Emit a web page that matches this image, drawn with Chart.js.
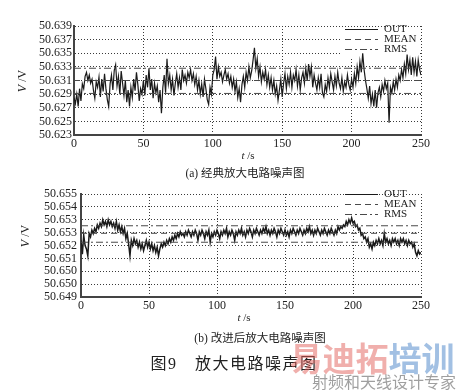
<!DOCTYPE html>
<html>
<head>
<meta charset="utf-8">
<script src="https://cdn.jsdelivr.net/npm/chart.js@4.4.0/dist/chart.umd.min.js"></script>
<style>
body { margin: 0; background: #fff; width: 460px; height: 390px; position: relative; overflow: hidden; font-family: "Liberation Serif", serif; color: #222; }
canvas { position: absolute; left: 0; }
.t { position: absolute; white-space: nowrap; transform: translate(-50%, -50%); }
.cjk { font-family: "Liberation Serif", "Noto Sans CJK SC", serif; }
</style>
</head>
<body>
<canvas id="c1" width="460" height="165" style="top:0"></canvas>
<canvas id="c2" width="460" height="150" style="top:175px"></canvas>

<div class="t" style="left:22px;top:81px;font-size:12px;transform:translate(-50%,-50%) rotate(-90deg)"><i>V</i> /V</div>
<div class="t" style="left:248px;top:155px;font-size:11px"><i>t</i> /s</div>
<div class="t cjk" style="left:245px;top:172px;font-size:11.5px">(a) 经典放大电路噪声图</div>

<div class="t" style="left:25px;top:236px;font-size:12px;transform:translate(-50%,-50%) rotate(-90deg)"><i>V</i> /V</div>
<div class="t" style="left:244px;top:317px;font-size:11px"><i>t</i> /s</div>
<div class="t cjk" style="left:260px;top:337px;font-size:11.5px">(b) 改进后放大电路噪声图</div>

<div class="t cjk" style="left:234px;top:362px;font-size:16px;letter-spacing:1.5px">图9　放大电路噪声图</div>

<div class="t" style="left:372px;top:357px;font-size:33px;font-weight:bold;font-family:'Noto Sans CJK SC'"><span style="color:rgba(225,95,90,0.5)">易迪拓</span><span style="color:rgba(70,130,200,0.5)">培训</span></div>
<div class="t" style="left:384px;top:381px;font-size:16px;font-family:'Noto Sans CJK SC';color:rgba(80,80,80,0.55)">射频和天线设计专家</div>

<script>
// time axis, seconds
const seconds = Array.from({length: 251}, (_, i) => i);
const xTicks = [0, 50, 100, 150, 200, 250];

// (a) classic amplifier
const yTicks1 = [50.623, 50.625, 50.627, 50.629, 50.631, 50.633, 50.635, 50.637, 50.639];
const yLabels1 = ['50.623', '50.625', '50.627', '50.629', '50.631', '50.633', '50.635', '50.637', '50.639'];
const mean1 = 50.6310;
const rmsHigh1 = 50.6328;
const rmsLow1 = 50.6291;
const out1 = [
  50.6285, 50.6276, 50.6290, 50.6272, 50.6298, 50.6280, 50.6305, 50.6298, 50.6316, 50.6322,
  50.6310, 50.6318, 50.6306, 50.6312, 50.6296, 50.6284, 50.6308, 50.6300, 50.6315, 50.6286,
  50.6312, 50.6294, 50.6320, 50.6298, 50.6282, 50.6272, 50.6305, 50.6318, 50.6296, 50.6325,
  50.6333, 50.6302, 50.6316, 50.6290, 50.6324, 50.6306, 50.6288, 50.6310, 50.6278, 50.6296,
  50.6272, 50.6300, 50.6285, 50.6312, 50.6295, 50.6322, 50.6304, 50.6280, 50.6298, 50.6290,
  50.6310, 50.6288, 50.6318, 50.6300, 50.6328, 50.6296, 50.6312, 50.6284, 50.6306, 50.6292,
  50.6302, 50.6278, 50.6296, 50.6262, 50.6300, 50.6318, 50.6292, 50.6342, 50.6305, 50.6318,
  50.6296, 50.6312, 50.6288, 50.6306, 50.6320, 50.6300, 50.6314, 50.6296, 50.6326, 50.6310,
  50.6318, 50.6306, 50.6322, 50.6314, 50.6326, 50.6310, 50.6320, 50.6304, 50.6316, 50.6296,
  50.6310, 50.6290, 50.6305, 50.6286, 50.6312, 50.6298, 50.6282, 50.6275, 50.6300, 50.6290,
  50.6318, 50.6326, 50.6345, 50.6312, 50.6330, 50.6316, 50.6322, 50.6308, 50.6318, 50.6326,
  50.6312, 50.6320, 50.6306, 50.6316, 50.6300, 50.6312, 50.6294, 50.6308, 50.6285, 50.6298,
  50.6278, 50.6304, 50.6316, 50.6300, 50.6322, 50.6310, 50.6330, 50.6314, 50.6324, 50.6340,
  50.6358, 50.6328, 50.6342, 50.6316, 50.6330, 50.6308, 50.6322, 50.6312, 50.6326, 50.6304,
  50.6318, 50.6300, 50.6314, 50.6296, 50.6310, 50.6290, 50.6302, 50.6281, 50.6296, 50.6312,
  50.6286, 50.6306, 50.6320, 50.6298, 50.6316, 50.6304, 50.6322, 50.6300, 50.6318, 50.6310,
  50.6326, 50.6302, 50.6318, 50.6296, 50.6314, 50.6322, 50.6306, 50.6328, 50.6310, 50.6334,
  50.6316, 50.6330, 50.6300, 50.6318, 50.6306, 50.6296, 50.6314, 50.6300, 50.6320, 50.6292,
  50.6286, 50.6304, 50.6294, 50.6314, 50.6300, 50.6320, 50.6308, 50.6296, 50.6316, 50.6302,
  50.6322, 50.6306, 50.6298, 50.6314, 50.6294, 50.6308, 50.6300, 50.6318, 50.6304, 50.6296,
  50.6312, 50.6300, 50.6320, 50.6306, 50.6330, 50.6314, 50.6338, 50.6322, 50.6350, 50.6326,
  50.6310, 50.6298, 50.6284, 50.6302, 50.6276, 50.6290, 50.6272, 50.6296, 50.6270, 50.6292,
  50.6300, 50.6286, 50.6304, 50.6294, 50.6310, 50.6298, 50.6306, 50.6248, 50.6300, 50.6292,
  50.6308, 50.6296, 50.6312, 50.6300, 50.6318, 50.6310, 50.6326, 50.6314, 50.6334, 50.6320,
  50.6348, 50.6326, 50.6340, 50.6318, 50.6344, 50.6322, 50.6338, 50.6316, 50.6340, 50.6326,
  50.6318
];

// (b) improved amplifier
const yTicks2 = [50.649, 50.64975, 50.6505, 50.65125, 50.652, 50.65275, 50.6535, 50.65425, 50.655];
const yLabels2 = ['50.649', '50.650', '50.650', '50.651', '50.652', '50.653', '50.653', '50.654', '50.655'];
const mean2 = 50.65271;
const rmsHigh2 = 50.65315;
const rmsLow2 = 50.65219;
const out2 = [
  50.6523, 50.6515, 50.6526, 50.6520, 50.6518, 50.6514, 50.6527, 50.6525, 50.6529, 50.6527,
  50.6530, 50.6528, 50.6532, 50.6530, 50.6533, 50.6531, 50.6535, 50.6532, 50.6534, 50.6531,
  50.6535, 50.6532, 50.6534, 50.6531, 50.6533, 50.6530, 50.6534, 50.6529, 50.6532, 50.6528,
  50.6531, 50.6527, 50.6530, 50.6524, 50.6527, 50.6521, 50.6514, 50.6523, 50.6520, 50.6524,
  50.6521, 50.6523, 50.6519, 50.6522, 50.6518, 50.6521, 50.6517, 50.6520, 50.6523, 50.6519,
  50.6522, 50.6518, 50.6521, 50.6517, 50.6520, 50.6516, 50.6519, 50.6514, 50.6518, 50.6521,
  50.6519, 50.6522, 50.6520, 50.6523, 50.6521, 50.6524, 50.6522, 50.6525, 50.6523, 50.6526,
  50.6524, 50.6527, 50.6525, 50.6528, 50.6526, 50.6527, 50.6525, 50.6528, 50.6526, 50.6529,
  50.6527, 50.6525, 50.6528, 50.6526, 50.6529, 50.6527, 50.6523, 50.6528, 50.6526, 50.6529,
  50.6527, 50.6524, 50.6528, 50.6526, 50.6529, 50.6522, 50.6527, 50.6525, 50.6528, 50.6526,
  50.6529, 50.6527, 50.6524, 50.6528, 50.6526, 50.6529, 50.6527, 50.6530, 50.6525, 50.6528,
  50.6526, 50.6529, 50.6527, 50.6523, 50.6528, 50.6526, 50.6529, 50.6527, 50.6530, 50.6526,
  50.6528, 50.6525, 50.6529, 50.6527, 50.6530, 50.6528, 50.6525, 50.6529, 50.6527, 50.6530,
  50.6528, 50.6526, 50.6529, 50.6527, 50.6530, 50.6528, 50.6531, 50.6527, 50.6529, 50.6526,
  50.6529, 50.6527, 50.6530, 50.6528, 50.6525, 50.6529, 50.6527, 50.6530, 50.6528, 50.6526,
  50.6529, 50.6526, 50.6528, 50.6525, 50.6529, 50.6527, 50.6530, 50.6528, 50.6526, 50.6529,
  50.6527, 50.6530, 50.6528, 50.6526, 50.6529, 50.6527, 50.6530, 50.6528, 50.6531, 50.6527,
  50.6529, 50.6526, 50.6529, 50.6527, 50.6530, 50.6528, 50.6526, 50.6529, 50.6527, 50.6530,
  50.6528, 50.6526, 50.6529, 50.6527, 50.6530, 50.6528, 50.6526, 50.6529, 50.6527, 50.6531,
  50.6529, 50.6531, 50.6530, 50.6532, 50.6531, 50.6534, 50.6532, 50.6535, 50.6533, 50.6536,
  50.6533, 50.6534, 50.6531, 50.6532, 50.6529, 50.6530, 50.6526, 50.6527, 50.6524, 50.6525,
  50.6522, 50.6524, 50.6519, 50.6521, 50.6518, 50.6522, 50.6520, 50.6523, 50.6521, 50.6524,
  50.6521, 50.6523, 50.6520, 50.6527, 50.6522, 50.6524, 50.6521, 50.6523, 50.6520, 50.6524,
  50.6522, 50.6524, 50.6521, 50.6523, 50.6520, 50.6524, 50.6522, 50.6524, 50.6521, 50.6523,
  50.6520, 50.6523, 50.6521, 50.6522, 50.6519, 50.6521, 50.6516, 50.6514, 50.6517, 50.6515,
  50.6516
];

const legendNames = ['OUT', 'MEAN', 'RMS'];

Chart.defaults.font.family = '"Liberation Serif", "Times New Roman", serif';
Chart.defaults.color = '#222';

// legend drawn inside the plot, top right, on a white box
const legendBox = {
  id: 'legendBox',
  beforeDatasetsDraw(chart, args, o) {
    const {ctx, chartArea: a} = chart;
    ctx.save();
    ctx.fillStyle = '#fff';
    ctx.fillRect(a.right - o.width, a.top + 1, o.width - 1, o.height);
    ctx.restore();
  },
  afterDatasetsDraw(chart, args, o) {
    const {ctx, chartArea: a} = chart;
    const x0 = a.right - o.width;
    ctx.save();
    ctx.font = '11px "Liberation Serif"';
    ctx.textBaseline = 'middle';
    legendNames.forEach((name, i) => {
      const ds = chart.data.datasets.find(d => d.label === name);
      const y = Math.round(a.top + o.top + i * 10) + 0.5;
      ctx.strokeStyle = ds.borderColor;
      ctx.lineWidth = 1;
      ctx.setLineDash(ds.borderDash || []);
      ctx.beginPath();
      ctx.moveTo(x0 + 5, y);
      ctx.lineTo(x0 + 38, y);
      ctx.stroke();
      ctx.fillStyle = '#222';
      ctx.fillText(name, x0 + 44, y);
    });
    ctx.restore();
  }
};

function flat(v) {
  return [{x: 0, y: v}, {x: 250, y: v}];
}

function noiseChart(id, d) {
  return new Chart(document.getElementById(id), {
    type: 'line',
    data: {
      labels: seconds,
      datasets: [
        {label: 'OUT', data: d.out, borderColor: '#1a1a1a', borderWidth: d.lw, order: 2},
        {label: 'MEAN', data: flat(d.mean), borderColor: '#4a4a4a', borderDash: [6, 4], order: 1},
        {label: 'RMS', data: flat(d.hi), borderColor: '#4a4a4a', borderDash: [7, 3, 2, 3], order: 1},
        {label: 'RMS low', data: flat(d.lo), borderColor: '#4a4a4a', borderDash: [7, 3, 2, 3], order: 1}
      ]
    },
    options: {
      responsive: false,
      animation: false,
      elements: {point: {radius: 0}, line: {borderWidth: 1, tension: 0}},
      layout: {padding: d.pad},
      plugins: {legend: {display: false}, tooltip: {enabled: false}, legendBox: d.box},
      scales: {
        x: {
          type: 'linear', min: 0, max: 250,
          afterBuildTicks: s => { s.ticks = xTicks.map(v => ({value: v})); },
          afterFit: s => { s.height = d.xh; },
          ticks: {font: {size: 12}, padding: 2, maxRotation: 0, autoSkip: false},
          grid: {color: '#3a3a3a', drawTicks: false},
          border: {color: '#444', width: 2, dash: [1, 2]}
        },
        y: {
          min: d.yTicks[0], max: d.yTicks[d.yTicks.length - 1],
          afterBuildTicks: s => { s.ticks = d.yTicks.map(v => ({value: v})); },
          afterFit: s => { s.width = d.yw; },
          ticks: {font: {size: 12}, padding: d.ypad, autoSkip: false, callback: (v, i) => d.yLabels[i]},
          grid: {color: '#3a3a3a', drawTicks: false},
          border: {color: '#444', width: 2, dash: [1, 2]}
        }
      }
    },
    plugins: [legendBox]
  });
}

noiseChart('c1', {
  out: out1, mean: mean1, hi: rmsHigh1, lo: rmsLow1, lw: 1.2,
  yTicks: yTicks1, yLabels: yLabels1,
  pad: {top: 26, right: 39, left: 0, bottom: 0}, xh: 30, yw: 74, ypad: 2,
  box: {width: 81, height: 30, top: 3}
});

noiseChart('c2', {
  out: out2, mean: mean2, hi: rmsHigh2, lo: rmsLow2, lw: 1.5,
  yTicks: yTicks2, yLabels: yLabels2,
  pad: {top: 19, right: 39, left: 0, bottom: 0}, xh: 28, yw: 81, ypad: 4,
  box: {width: 81, height: 26, top: 0}
});
</script>
</body>
</html>
